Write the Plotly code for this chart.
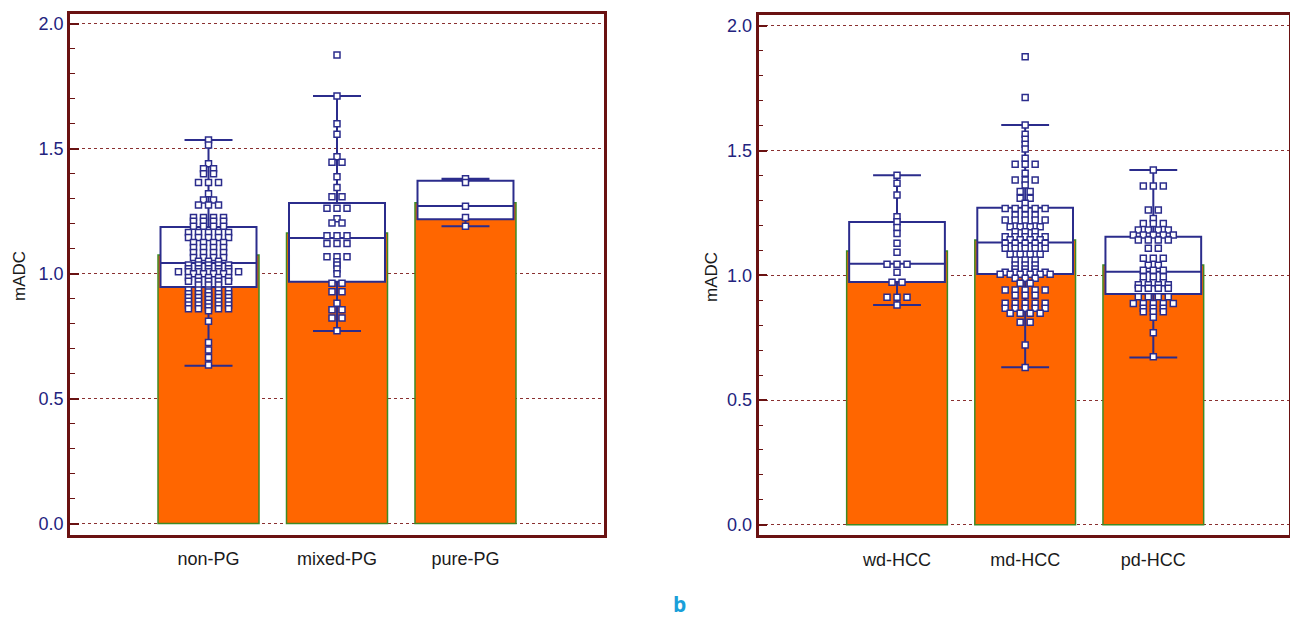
import plotly.graph_objects as go
from collections import Counter

# ---------------- data ----------------
left_categories = ["non-PG", "mixed-PG", "pure-PG"]
right_categories = ["wd-HCC", "md-HCC", "pd-HCC"]
y_ticks = [0.0, 0.5, 1.0, 1.5, 2.0]

left_means = [1.075, 1.163, 1.284]
right_means = [1.097, 1.141, 1.041]

left_q1 = [0.947, 0.968, 1.218]
left_median = [1.043, 1.143, 1.271]
left_q3 = [1.187, 1.283, 1.372]
left_low = [0.632, 0.771, 1.19]
left_high = [1.535, 1.711, 1.38]

right_q1 = [0.973, 1.005, 0.925]
right_median = [1.046, 1.131, 1.014]
right_q3 = [1.214, 1.271, 1.155]
right_low = [0.881, 0.631, 0.671]
right_high = [1.401, 1.602, 1.422]

non_pg = [
    1.535, 1.515, 1.44,
    1.42, 1.42, 1.40, 1.40,
    1.365, 1.365, 1.365, 1.32,
    1.295, 1.295, 1.275, 1.275, 1.275,
    1.225, 1.225, 1.225, 1.225,
    1.21, 1.21, 1.21, 1.21,
    1.19, 1.19, 1.19, 1.19,
    1.165, 1.165, 1.165, 1.165, 1.165,
    1.145, 1.145, 1.145, 1.145, 1.145,
    1.125, 1.125, 1.125, 1.125,
    1.105, 1.105, 1.105, 1.105,
    1.085, 1.085, 1.085, 1.085,
    1.065, 1.065, 1.065, 1.065,
    1.05, 1.05, 1.05,
    1.035, 1.035, 1.035, 1.035, 1.035,
    1.02, 1.02, 1.02, 1.02, 1.02,
    1.008, 1.008, 1.008, 1.008, 1.008, 1.008, 1.008,
    1.0, 1.0, 1.0, 1.0,
    0.985, 0.985, 0.985, 0.985, 0.985,
    0.97, 0.97, 0.97, 0.97, 0.97,
    0.955, 0.955, 0.955,
    0.935, 0.935, 0.935, 0.935, 0.935,
    0.92, 0.92, 0.92, 0.92, 0.92,
    0.905, 0.905, 0.905, 0.905, 0.905,
    0.89, 0.89, 0.89, 0.89, 0.89,
    0.875, 0.875, 0.875, 0.875, 0.875,
    0.86, 0.86, 0.86, 0.86, 0.86,
    0.927, 0.912, 0.897, 0.882, 0.867, 0.852,
    0.81, 0.725, 0.695, 0.665, 0.635,
]

mixed_pg = [
    1.875, 1.711, 1.60, 1.558, 1.468, 1.446, 1.446, 1.388, 1.345,
    1.308, 1.308, 1.262, 1.262, 1.262, 1.22, 1.203, 1.203,
    1.152, 1.152, 1.152, 1.121, 1.121, 1.121,
    1.068, 1.068, 1.068, 1.048, 1.035, 1.019, 1.0,
    0.962, 0.962, 0.928, 0.928, 0.882, 0.856, 0.856,
    0.823, 0.823, 0.772,
]

pure_pg = [1.38, 1.365, 1.27, 1.225, 1.19]

wd_hcc = [
    1.401, 1.369, 1.322, 1.235, 1.215, 1.192, 1.168, 1.128, 1.092,
    1.044, 1.044, 1.044, 1.012, 0.972, 0.972,
    0.912, 0.912, 0.912, 0.881,
]

md_hcc = [
    1.876, 1.713, 1.602, 1.565, 1.545, 1.525, 1.506, 1.469,
    1.445, 1.445, 1.445, 1.409, 1.382, 1.382, 1.382, 1.362,
    1.336, 1.336, 1.309, 1.309, 1.289,
    1.268, 1.268, 1.268, 1.268, 1.268,
    1.242, 1.242, 1.242,
    1.222, 1.222, 1.222, 1.222, 1.222,
    1.195, 1.195, 1.195, 1.195,
    1.175, 1.175, 1.175,
    1.155, 1.155, 1.155, 1.155, 1.155,
    1.142, 1.142, 1.142, 1.142,
    1.128, 1.128, 1.128, 1.128, 1.128,
    1.108, 1.108, 1.108, 1.108, 1.108,
    1.084, 1.084, 1.084, 1.084,
    1.061, 1.061, 1.061,
    1.041, 1.041, 1.041,
    1.025, 1.025, 1.025,
    1.012, 1.012, 1.012, 1.012, 1.012,
    1.004, 1.004, 1.004, 1.004, 1.004, 1.004,
    0.988, 0.988, 0.988,
    0.968, 0.968,
    0.941, 0.941, 0.941, 0.941, 0.941,
    0.92, 0.92, 0.92,
    0.888, 0.888, 0.888, 0.888, 0.888,
    0.868, 0.868, 0.868, 0.868, 0.868,
    0.848, 0.848, 0.848, 0.848,
    0.812, 0.812, 0.721, 0.63,
]

pd_hcc = [
    1.422, 1.358, 1.358, 1.358, 1.262, 1.262, 1.228,
    1.208, 1.208, 1.208, 1.182, 1.182, 1.182, 1.182,
    1.162, 1.162, 1.162, 1.162, 1.162,
    1.141, 1.141, 1.141, 1.141, 1.108, 1.108,
    1.068, 1.068, 1.068, 1.04, 1.04, 1.02, 1.02, 1.02,
    0.994, 0.994, 0.994, 0.97, 0.97, 0.97, 0.962, 0.962, 0.962, 0.962,
    0.948, 0.948, 0.948, 0.948, 0.914, 0.914, 0.914, 0.914,
    0.887, 0.887, 0.887, 0.887, 0.887, 0.868, 0.868, 0.868,
    0.854, 0.854, 0.854, 0.832, 0.77, 0.674,
]

left_points = [non_pg, mixed_pg, pure_pg]
right_points = [wd_hcc, md_hcc, pd_hcc]

# ---------------- style ----------------
W, H = 1290, 621
ORANGE = "#FF6600"
GREEN = "#3f8a25"
NAVY = "#2b2c8c"
FRAME = "#6a1212"
GRID = "#8a3030"
TICKLBL = "#23237e"
STEP = 0.078  # horizontal spacing of tied points (x-axis units)
FONT = "Liberation Sans, Arial"


def spread(vals, center, step=STEP):
    counts = Counter(vals)
    seen = {}
    xs = []
    for v in vals:
        n = counts[v]
        k = seen.get(v, 0)
        seen[v] = k + 1
        xs.append(center + (k - (n - 1) / 2) * step)
    return xs


fig = go.Figure()

panels = [
    ("x", "y", left_means, left_q1, left_median, left_q3, left_low, left_high, left_points),
    ("x2", "y2", right_means, right_q1, right_median, right_q3, right_low, right_high, right_points),
]

for xa, ya, means, q1, med, q3, lo, hi, pts in panels:
    pos = list(range(len(means)))
    fig.add_trace(go.Bar(
        x=pos, y=means, width=0.786, xaxis=xa, yaxis=ya,
        marker=dict(color=ORANGE, line=dict(color=GREEN, width=1.5)),
        hoverinfo="skip", showlegend=False,
    ))
for xa, ya, means, q1, med, q3, lo, hi, pts in panels:
    pos = list(range(len(means)))
    fig.add_trace(go.Box(
        x=pos, q1=q1, median=med, q3=q3, lowerfence=lo, upperfence=hi,
        width=0.747, whiskerwidth=0.5, xaxis=xa, yaxis=ya,
        fillcolor="white", line=dict(color=NAVY, width=2),
        boxpoints=False, hoverinfo="skip", showlegend=False,
    ))
for xa, ya, means, q1, med, q3, lo, hi, pts in panels:
    for i, vals in enumerate(pts):
        fig.add_trace(go.Scatter(
            x=spread(vals, i), y=vals, mode="markers", xaxis=xa, yaxis=ya,
            marker=dict(symbol="square", size=6, color="white",
                        line=dict(color=NAVY, width=1.5)),
            hoverinfo="skip", showlegend=False,
        ))

common_x = dict(
    showline=True, mirror=True, linecolor=FRAME, linewidth=2.5,
    showgrid=False, zeroline=False, tickvals=[0, 1, 2],
    ticks="outside", ticklen=6, tickcolor="rgba(0,0,0,0)",
    tickfont=dict(family=FONT, size=18, color="#1a1a1a"),
)
common_y = dict(
    showline=True, mirror=True, linecolor=FRAME, linewidth=2.5,
    showgrid=True, gridcolor=GRID, griddash="dot", gridwidth=1,
    zeroline=False, tickvals=y_ticks, tickformat=".1f",
    ticks="inside", ticklen=9, tickwidth=1.5, tickcolor=FRAME,
    minor=dict(dtick=0.1, ticks="inside", ticklen=5, tickwidth=1.2,
               tickcolor=FRAME, showgrid=False),
    tickfont=dict(family=FONT, size=18, color=TICKLBL),
)

fig.update_layout(
    width=W, height=H, margin=dict(l=0, r=0, t=0, b=0),
    paper_bgcolor="white", plot_bgcolor="white",
    barmode="overlay", boxmode="overlay",
    xaxis=dict(common_x, domain=[70 / W, 604 / W], range=[-1.078, 3.078],
               ticktext=left_categories, anchor="y"),
    yaxis=dict(common_y, domain=[(H - 534.6) / H, (H - 13.9) / H],
               range=[-0.044, 2.0396], anchor="x"),
    xaxis2=dict(common_x, domain=[758.5 / W, 1288.5 / W], range=[-1.081, 3.055],
                ticktext=right_categories, anchor="y2"),
    yaxis2=dict(common_y, domain=[(H - 535.4) / H, (H - 15) / H],
                range=[-0.0425, 2.0433], anchor="x2"),
    annotations=[
        dict(text="mADC", x=19 / W, y=1 - 276 / H, xref="paper", yref="paper",
             xanchor="center", yanchor="middle", textangle=-90, showarrow=False,
             font=dict(family=FONT, size=17, color="#1a1a1a")),
        dict(text="mADC", x=711 / W, y=1 - 277 / H, xref="paper", yref="paper",
             xanchor="center", yanchor="middle", textangle=-90, showarrow=False,
             font=dict(family=FONT, size=17, color="#1a1a1a")),
        dict(text="<b>b</b>", x=679 / W, y=0.002, xref="paper", yref="paper",
             xanchor="center", yanchor="bottom", showarrow=False,
             font=dict(family="Open Sans, Noto Sans", size=21, color="#1a9fd9")),
    ],
)

fig.write_html(
    "out.html",
    config={"displayModeBar": False},
    post_script="document.body.style.margin='0';document.body.style.overflow='hidden';",
)
